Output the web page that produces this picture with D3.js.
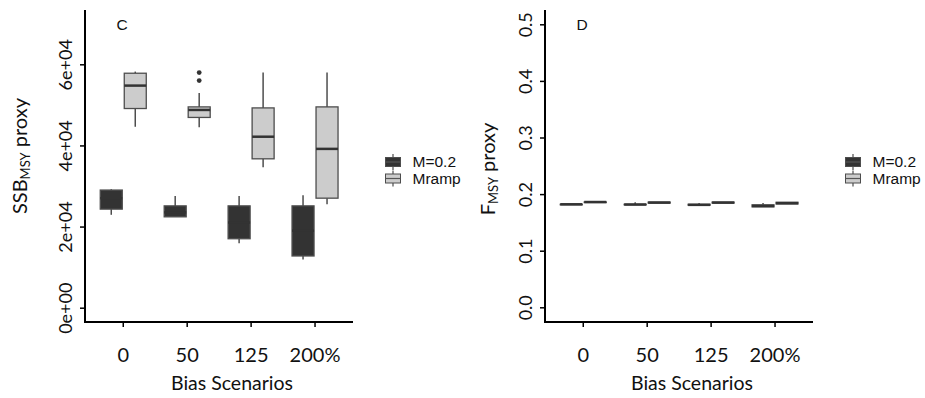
<!DOCTYPE html>
<html>

<head>
    <meta charset="utf-8">
    <title>SSB and F proxies by bias scenario</title>
    <style>
    body { margin: 0; background: #fff; }
    svg text { fill: #111; }
    .tick text { font-family: Lato, sans-serif; font-size: 18px; }
    </style>
</head>

<body>
    <script src="https://d3js.org/d3.v7.min.js"></script>
    <script>
    // bias scenarios on the x axis and the two M groups
    var categories = ["0", "50", "125", "200%"];
    var groups = ["M=0.2", "Mramp"];

    // each box: [lower whisker, q1, median, q3, upper whisker]
    var ssbM02 = [
        [22900, 24300, 27000, 29000, 29200],
        [22400, 22400, 23500, 25100, 27550],
        [15900, 17000, 21000, 25100, 27550],
        [11900, 12750, 19000, 25100, 27700]
    ];
    var ssbMramp = [
        [44600, 49100, 54750, 57800, 58200],
        [44500, 46900, 48750, 49500, 52900],
        [34600, 36700, 42150, 49250, 58000],
        [25500, 27000, 39150, 49500, 58000]
    ];
    var ssbMrampOutliers = [[], [56000, 57950], [], []];

    var fM02 = [
        [0.1815, 0.1815, 0.182, 0.182, 0.182],
        [0.1812, 0.1812, 0.1816, 0.182, 0.1855],
        [0.1805, 0.1805, 0.181, 0.182, 0.1842],
        [0.177, 0.1775, 0.179, 0.181, 0.1842]
    ];
    var fMramp = [
        [0.1858, 0.1858, 0.186, 0.186, 0.186],
        [0.1842, 0.1842, 0.185, 0.1858, 0.1858],
        [0.1842, 0.1842, 0.185, 0.1858, 0.1858],
        [0.1826, 0.1826, 0.184, 0.1855, 0.1855]
    ];

    var ssbTicks = [0, 20000, 40000, 60000];
    var ssbTickLabels = ["0e+00", "2e+04", "4e+04", "6e+04"];
    var fTicks = [0, 0.1, 0.2, 0.3, 0.4, 0.5];

    var fills = ["#333333", "#cccccc"];
    var edge = "#4d4d4d";

    var svg = d3.select("body")
        .append("svg")
        .attr("width", 925)
        .attr("height", 398);

    function panel(dx, opts) {
        var g = svg.append("g").attr("transform", "translate(" + dx + ",0)");
        var x = d3.scaleBand().domain(categories).range([91.3, 347]);
        var y = d3.scaleLinear().domain(opts.domain).range(opts.range);
        var off = [-12, 12];
        var bw = 22;

        opts.series.forEach(function(data, s) {
            var box = g.selectAll(".box" + s)
                .data(data)
                .enter()
                .append("g")
                .attr("transform", function(d, i) {
                    return "translate(" + (x(categories[i]) + x.bandwidth() / 2 + off[s]) + ",0)";
                });
            // whiskers
            box.append("line")
                .attr("y1", function(d) { return y(d[0]); })
                .attr("y2", function(d) { return y(d[1]); })
                .attr("stroke", edge).attr("stroke-width", 1.5);
            box.append("line")
                .attr("y1", function(d) { return y(d[3]); })
                .attr("y2", function(d) { return y(d[4]); })
                .attr("stroke", edge).attr("stroke-width", 1.5);
            box.append("rect")
                .attr("x", -bw / 2)
                .attr("width", bw)
                .attr("y", function(d) { return y(d[3]); })
                .attr("height", function(d) { return Math.max(y(d[1]) - y(d[3]), 0.5); })
                .attr("fill", fills[s])
                .attr("stroke", edge)
                .attr("stroke-width", 1.3);
            box.append("line")
                .attr("x1", -bw / 2).attr("x2", bw / 2)
                .attr("y1", function(d) { return y(d[2]); })
                .attr("y2", function(d) { return y(d[2]); })
                .attr("stroke", "#333").attr("stroke-width", 2.5);
            if (opts.outliers && opts.outliers[s]) {
                box.selectAll("circle")
                    .data(function(d, i) { return opts.outliers[s][i]; })
                    .enter()
                    .append("circle")
                    .attr("cy", function(v) { return y(v); })
                    .attr("r", 2.4)
                    .attr("fill", "#333");
            }
        });

        // axes, L shaped like the original
        var yAxis = d3.axisLeft(y).tickValues(opts.ticks).tickSize(5)
            .tickFormat(function(d, i) { return opts.tickLabels[i]; });
        var ya = g.append("g").attr("transform", "translate(85,0)").call(yAxis);
        ya.select(".domain").remove();
        ya.selectAll(".tick line").attr("stroke", "#000").attr("stroke-width", 1.5);
        ya.selectAll(".tick text")
            .attr("x", null).attr("dy", null)
            .attr("text-anchor", "middle")
            .attr("transform", "translate(-13,0) rotate(-90)");

        var xAxis = d3.axisBottom(x).tickSize(5);
        var xa = g.append("g").attr("transform", "translate(0,322)").call(xAxis);
        xa.select(".domain").remove();
        xa.selectAll(".tick line").attr("stroke", "#000").attr("stroke-width", 1.5);
        xa.selectAll(".tick text")
            .attr("y", 40).attr("dy", null)
            .style("font-size", "20px");

        g.append("line").attr("x1", 85).attr("x2", 85).attr("y1", 10).attr("y2", 323)
            .attr("stroke", "#000").attr("stroke-width", 2);
        g.append("line").attr("x1", 84).attr("x2", 353).attr("y1", 322).attr("y2", 322)
            .attr("stroke", "#000").attr("stroke-width", 2);

        g.append("text")
            .attr("x", 232).attr("y", 390)
            .attr("text-anchor", "middle")
            .style("font-family", "Lato, sans-serif")
            .style("font-size", "19.5px")
            .text("Bias Scenarios");

        var title = g.append("text")
            .attr("transform", "translate(" + opts.titleX + "," + opts.titleY + ") rotate(-90)")
            .attr("text-anchor", "middle")
            .style("font-family", "Lato, sans-serif")
            .style("font-size", "20px");
        title.append("tspan").text(opts.title[0]);
        title.append("tspan").attr("dy", 3).style("font-size", "13px").text("MSY");
        title.append("tspan").attr("dy", -3).text(" proxy");

        g.append("text")
            .attr("x", 116.5).attr("y", 30)
            .style("font-family", "'Liberation Sans', Arial, sans-serif")
            .style("font-size", "15.5px")
            .text(opts.letter);

        // legend
        var leg = g.selectAll(".key")
            .data(groups)
            .enter()
            .append("g")
            .attr("transform", function(d, i) { return "translate(393," + (162 + i * 16.5) + ")"; });
        leg.append("line").attr("y1", -8).attr("y2", 8)
            .attr("stroke", edge).attr("stroke-width", 1.2);
        leg.append("rect")
            .attr("x", -7.5).attr("y", -4.5).attr("width", 15).attr("height", 9)
            .attr("fill", function(d, i) { return fills[i]; })
            .attr("stroke", edge).attr("stroke-width", 1);
        leg.append("line").attr("x1", -7.5).attr("x2", 7.5)
            .attr("stroke", "#555").attr("stroke-width", 1.2);
        leg.append("text")
            .attr("x", 19.5).attr("y", 5)
            .style("font-family", "'Liberation Sans', Arial, sans-serif")
            .style("font-size", "15.5px")
            .text(function(d) { return d; });
    }

    panel(0, {
        domain: [0, 60000], range: [307.7, 64.3],
        ticks: ssbTicks, tickLabels: ssbTickLabels,
        series: [ssbM02, ssbMramp], outliers: [null, ssbMrampOutliers],
        title: ["SSB"], titleX: 27, titleY: 156, letter: "C"
    });
    panel(460, {
        domain: [0, 0.5], range: [307.3, 24.3],
        ticks: fTicks, tickLabels: fTicks.map(function(d) { return d.toFixed(1); }),
        series: [fM02, fMramp],
        title: ["F"], titleX: 35, titleY: 169, letter: "D"
    });
    </script>
</body>

</html>
